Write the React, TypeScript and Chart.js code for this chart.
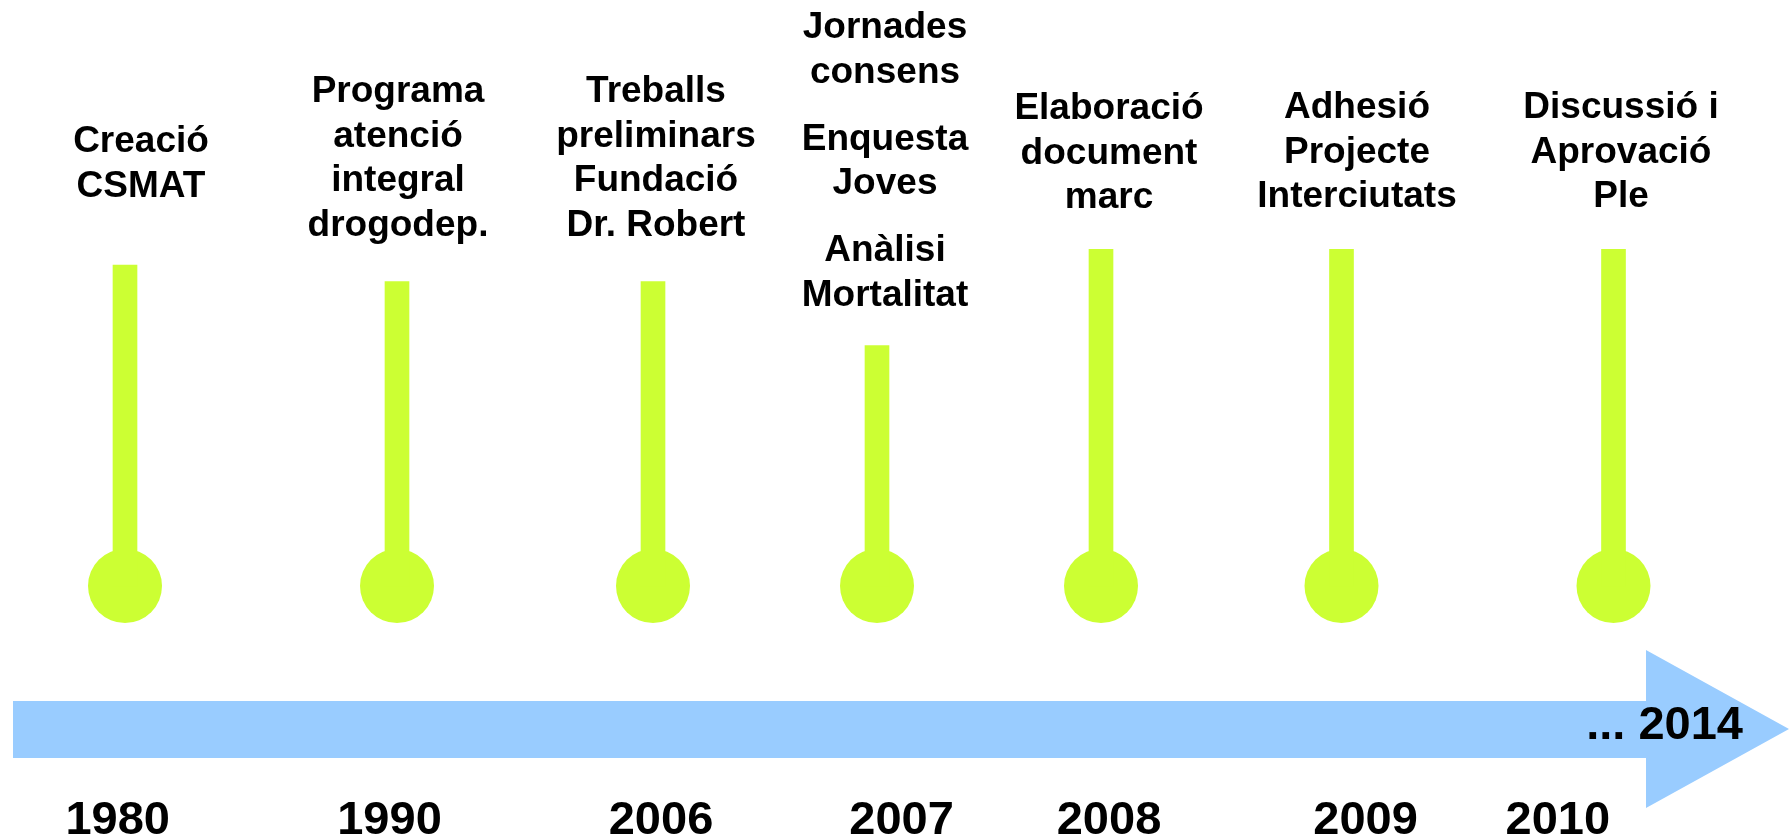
import React, { useEffect, useRef } from 'react';
import { Chart, registerables } from 'chart.js';

Chart.register(...registerables);

// ---- data ----
const YEARS = ['1980', '1990', '2006', '2007', '2008', '2009', '2010'];
const EVENTS: string[][] = [
  ['Creació', 'CSMAT'],
  ['Programa', 'atenció', 'integral', 'drogodep.'],
  ['Treballs', 'preliminars', 'Fundació', 'Dr. Robert'],
  ['Jornades', 'consens', '', 'Enquesta', 'Joves', '', 'Anàlisi', 'Mortalitat'],
  ['Elaboració', 'document', 'marc'],
  ['Adhesió', 'Projecte', 'Interciutats'],
  ['Discussió i', 'Aprovació', 'Ple'],
];
const STEM_X = [125, 397, 653, 877, 1101, 1341.5, 1613.5];
const STEM_TOP = [573, 556.3, 556.3, 492.3, 588.7, 588.7, 588.7];
const STEM_BASE = 252;
const YEAR_X = [117.7, 389.5, 661, 901.6, 1109, 1365.6, 1557.8];
const END_LABEL = '... 2014';

// ---- layout / style ----
const W = 1789;
const H = 838;
const LABEL_X = [141, 398, 656, 885, 1109, 1357, 1621];
const LABEL_GAP = [68.3, 45.7, 45.7, 39.7, 41, 42, 42];
const LINE_H = 44.6;
const PARA_GAP = 22.5;
const YEAR_BASE = 4;
const ARROW = { x0: 13, xHead: 1646, xTip: 1789, shaftTop: 137, shaftBot: 80, headTop: 188, headBot: 30, mid: 109 };
const END_LABEL_X = 1743;
const END_LABEL_Y = 99;
const LIME = '#CCFF33';
const BLUE = '#99CCFF';
const FONT = '"Liberation Sans", Arial, Helvetica, sans-serif';

const timelinePlugin = {
  id: 'timeline',
  beforeDatasetsDraw(chart: any) {
    const { ctx, scales } = chart;
    const xs = scales.x;
    const ys = scales.y;
    const px = (v: number) => xs.getPixelForValue(v);
    const py = (v: number) => ys.getPixelForValue(v);
    ctx.save();
    ctx.fillStyle = BLUE;
    ctx.beginPath();
    ctx.moveTo(px(ARROW.x0), py(ARROW.shaftTop));
    ctx.lineTo(px(ARROW.xHead), py(ARROW.shaftTop));
    ctx.lineTo(px(ARROW.xHead), py(ARROW.headTop));
    ctx.lineTo(px(ARROW.xTip), py(ARROW.mid));
    ctx.lineTo(px(ARROW.xHead), py(ARROW.headBot));
    ctx.lineTo(px(ARROW.xHead), py(ARROW.shaftBot));
    ctx.lineTo(px(ARROW.x0), py(ARROW.shaftBot));
    ctx.closePath();
    ctx.fill();
    ctx.restore();
  },
  afterDatasetsDraw(chart: any) {
    const { ctx, scales } = chart;
    const xs = scales.x;
    const ys = scales.y;
    ctx.save();
    ctx.fillStyle = '#000';
    ctx.textBaseline = 'alphabetic';

    // event labels
    ctx.font = `bold 37px ${FONT}`;
    ctx.textAlign = 'center';
    EVENTS.forEach((lines, i) => {
      const cx = xs.getPixelForValue(LABEL_X[i]);
      let y = ys.getPixelForValue(STEM_TOP[i]) - LABEL_GAP[i];
      for (let k = lines.length - 1; k >= 0; k--) {
        const t = lines[k];
        if (t === '') {
          y -= PARA_GAP;
          continue;
        }
        ctx.fillText(t, cx, y);
        y -= LINE_H;
      }
    });

    // year labels
    ctx.font = `bold 47px ${FONT}`;
    YEARS.forEach((yr, i) => {
      ctx.fillText(yr, xs.getPixelForValue(YEAR_X[i]), ys.getPixelForValue(YEAR_BASE));
    });

    // end label
    ctx.textAlign = 'right';
    ctx.fillText(END_LABEL, xs.getPixelForValue(END_LABEL_X), ys.getPixelForValue(END_LABEL_Y));
    ctx.restore();
  },
};

export default function App() {
  const ref = useRef<HTMLCanvasElement>(null);
  useEffect(() => {
    if (!ref.current) return;
    const chart = new Chart(ref.current, {
      type: 'bar',
      data: {
        datasets: [
          {
            type: 'bar',
            data: STEM_X.map((x, i) => ({ x, y: [STEM_BASE, STEM_TOP[i]] })) as any,
            backgroundColor: LIME,
            borderWidth: 0,
            barThickness: 24,
          } as any,
          {
            type: 'scatter',
            data: STEM_X.map((x) => ({ x, y: STEM_BASE })),
            pointRadius: 37,
            pointBackgroundColor: LIME,
            pointBorderWidth: 0,
            pointBorderColor: LIME,
            showLine: false,
          } as any,
        ],
      },
      options: {
        responsive: false,
        animation: false,
        devicePixelRatio: 1,
        events: [],
        layout: { padding: 0, autoPadding: false },
        plugins: { legend: { display: false }, tooltip: { enabled: false } },
        scales: {
          x: { type: 'linear', min: 0, max: W, display: false, offset: false },
          y: { type: 'linear', min: 0, max: H, display: false },
        },
      } as any,
      plugins: [timelinePlugin],
    });
    return () => chart.destroy();
  }, []);
  return (
    <div style={{ position: 'fixed', left: 0, top: 0, width: W, height: H, background: '#fff' }}>
      <canvas ref={ref} width={W} height={H} style={{ display: 'block' }} />
    </div>
  );
}
